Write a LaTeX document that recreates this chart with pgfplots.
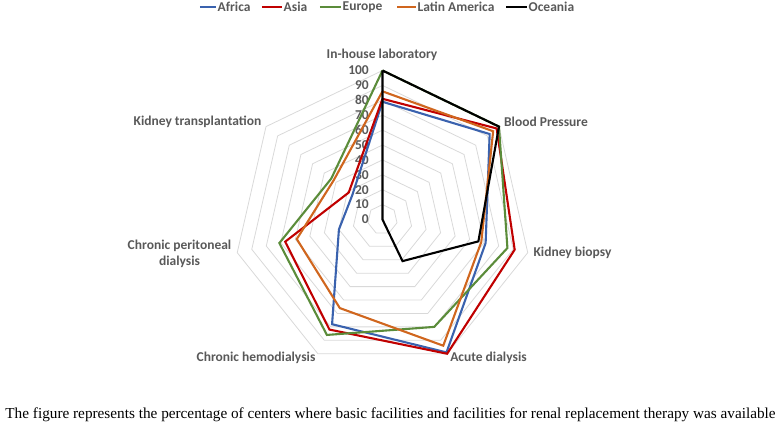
\documentclass[border=0pt]{standalone}
\usepackage{pgfplots}
\pgfplotsset{compat=1.18}
\usepgfplotslibrary{polar}
\usepackage{fontspec}
\setmainfont{Carlito}
\newfontfamily\capfont{Liberation Serif}
\definecolor{cafr}{HTML}{3A62AE}
\definecolor{casi}{HTML}{C00000}
\definecolor{ceur}{HTML}{5B8C3A}
\definecolor{clat}{HTML}{D0661E}
\definecolor{lbl}{HTML}{595959}
\definecolor{grd}{HTML}{D9D9D9}
\begin{document}
\begin{tikzpicture}
\path[use as bounding box] (-382.5bp,-206.5bp) rectangle (399.5bp,219.5bp);
\begin{polaraxis}[
  at={(0,0)}, anchor=origin,
  scale only axis, width=298bp, height=298bp,
  xmin=0, xmax=360, ymin=0, ymax=100,
  hide axis, clip=false,
  every axis plot/.append style={line width=2.1bp, line join=miter},
]
% heptagonal grid
\pgfplotsinvokeforeach{10,20,30,40,50,60,70,80,90,100}{
  \addplot[grd, line width=0.8bp, forget plot] coordinates {(90,#1) (38.571,#1) (347.143,#1) (295.714,#1) (244.286,#1) (192.857,#1) (141.429,#1) (90,#1)};
}
\pgfplotsinvokeforeach{0,10,20,30,40,50,60,70,80,90,100}{
  \node[anchor=east, text=lbl, font=\bfseries\fontsize{13.5bp}{16bp}\selectfont, inner sep=0pt, xshift=-13.5bp] at (axis cs:90,#1) {#1};
}
% Africa
\addplot[cafr] coordinates {(90,79) (38.571,92) (347.143,71) (295.714,99) (244.286,78) (192.857,30) (141.429,26) (90,79)};
% Asia
\addplot[casi] coordinates {(90,81) (38.571,98) (347.143,91) (295.714,100) (244.286,82) (192.857,67) (141.429,29) (90,81)};
% Europe
\addplot[ceur] coordinates {(90,100) (38.571,100) (347.143,86) (295.714,80) (244.286,86) (192.857,71) (141.429,44) (90,100)};
% Latin America
\addplot[clat] coordinates {(90,86) (38.571,95) (347.143,68) (295.714,94) (244.286,66) (192.857,59) (141.429,42) (90,86)};
% Oceania
\addplot[black] coordinates {(90,100) (38.571,100) (347.143,66) (295.714,31) (244.286,0) (192.857,0) (141.429,0) (90,100)};
\end{polaraxis}
\begin{scope}[every node/.style={text=lbl, font=\bfseries\fontsize{13.5bp}{16bp}\selectfont, inner sep=0pt}]
\node at (-0.5bp,164.5bp) {In-house laboratory};
\node at (163.5bp,97.5bp) {Blood Pressure};
\node at (190bp,-33.5bp) {Kidney biopsy};
\node at (106bp,-138.5bp) {Acute dialysis};
\node at (-126.5bp,-138.5bp) {Chronic hemodialysis};
\node[align=center] at (-203bp,-34bp) {Chronic peritoneal\\dialysis};
\node at (-185bp,97.5bp) {Kidney transplantation};
% legend
\draw[cafr, line width=2.1bp] (-182.5bp,212.5bp) -- (-166.5bp,212.5bp);
\node[anchor=west] at (-165bp,212.5bp) {Africa};
\draw[casi, line width=2.1bp] (-120.5bp,212.5bp) -- (-100.5bp,212.5bp);
\node[anchor=west] at (-99bp,212.5bp) {Asia};
\draw[ceur, line width=2.1bp] (-62.5bp,212.5bp) -- (-41.5bp,212.5bp);
\node[anchor=west] at (-40bp,212.5bp) {Europe};
\draw[clat, line width=2.1bp] (14.5bp,212.5bp) -- (33.5bp,212.5bp);
\node[anchor=west] at (35bp,212.5bp) {Latin America};
\draw[black, line width=2.1bp] (123.5bp,212.5bp) -- (144.5bp,212.5bp);
\node[anchor=west] at (146bp,212.5bp) {Oceania};
\end{scope}
\node[inner sep=0pt, anchor=base, font=\capfont\fontsize{15.25bp}{18bp}\selectfont] at (8bp,-198.5bp) {The figure represents the percentage of centers where basic facilities and facilities for renal replacement therapy was available};
\end{tikzpicture}
\end{document}
